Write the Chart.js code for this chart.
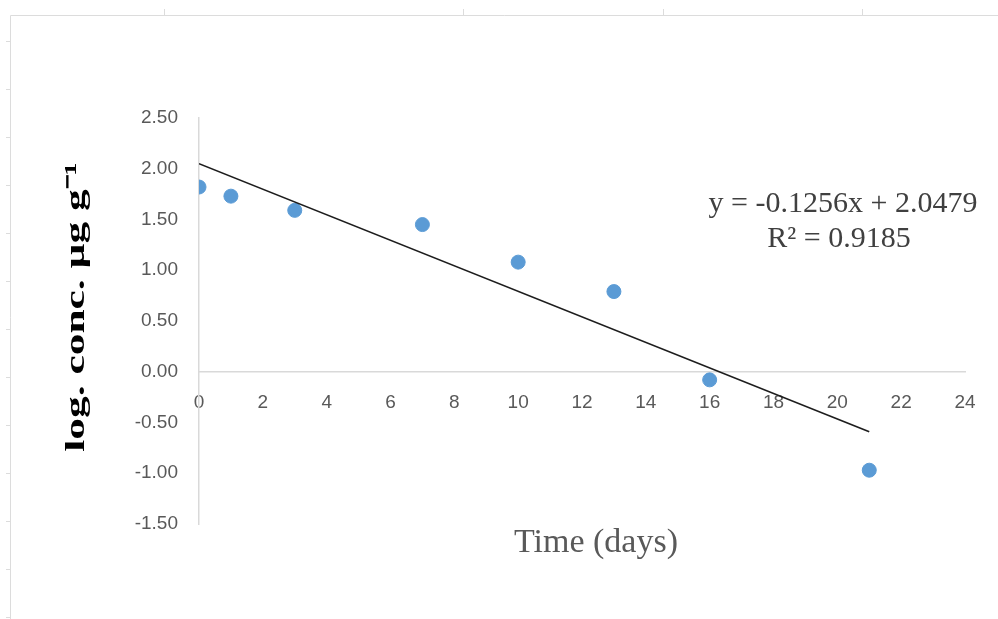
<!DOCTYPE html>
<html>
<head>
<meta charset="utf-8">
<script src="https://cdn.jsdelivr.net/npm/chart.js@4/dist/chart.umd.min.js"></script>
<style>
  html, body { margin: 0; padding: 0; background: #ffffff; }
  #wrap { width: 998px; height: 619px; position: relative; }
</style>
</head>
<body>
<div id="wrap"><canvas id="c" width="998" height="619"></canvas></div>
<script>
// ---- data ----
const days = [0, 1, 3, 7, 10, 13, 16, 21];
const logConc = [1.82, 1.73, 1.59, 1.45, 1.08, 0.79, -0.08, -0.97];
const trendDays = [0, 21];
const trendValues = [2.05, -0.59];
const equationLines = ['y = -0.1256x + 2.0479', 'R\u00B2 = 0.9185'];
const xTitle = 'Time (days)';
const yTitle = 'log. conc. \u00B5g g\u207B\u00B9';

const pts = days.map((d, i) => ({ x: d, y: logConc[i] }));
const trend = trendDays.map((d, i) => ({ x: d, y: trendValues[i] }));

const framePlugin = {
  id: 'frame',
  beforeDraw(chart) {
    const ctx = chart.ctx;
    ctx.save();
    ctx.strokeStyle = '#dcdcdc';
    ctx.lineWidth = 1;
    ctx.beginPath();
    ctx.moveTo(10.5, 619); ctx.lineTo(10.5, 15.5); ctx.lineTo(998, 15.5);
    [164, 463, 663, 862].forEach(x => { ctx.moveTo(x + 0.5, 9); ctx.lineTo(x + 0.5, 15); });
    for (let y = 41; y < 619; y += 48) { ctx.moveTo(6, y + 0.5); ctx.lineTo(10, y + 0.5); }
    ctx.stroke();
    ctx.restore();
  }
};

const equationPlugin = {
  id: 'equation',
  afterDatasetsDraw(chart) {
    const ctx = chart.ctx;
    ctx.save();
    ctx.font = '30px "Liberation Serif", "Times New Roman", serif';
    ctx.fillStyle = '#404040';
    ctx.textAlign = 'center';
    ctx.textBaseline = 'middle';
    ctx.fillText(equationLines[0], 843, 204);
    ctx.fillText(equationLines[1], 839, 239);
    ctx.restore();
  }
};

// small wrappers that place the axis titles like the reference
function wrapTitle(scale, fn) {
  if (scale._titleWrapped) return;
  scale._titleWrapped = true;
  const orig = scale.drawTitle;
  scale.drawTitle = function () {
    const ctx = this.ctx;
    ctx.save();
    fn(ctx, this);
    orig.call(this);
    ctx.restore();
  };
}

new Chart(document.getElementById('c'), {
  type: 'scatter',
  data: {
    datasets: [
      {
        label: 'log conc',
        data: pts,
        backgroundColor: '#5b9bd5',
        borderColor: '#5b9bd5',
        pointRadius: 7,
        pointHoverRadius: 7,
        order: 2
      },
      {
        type: 'line',
        label: 'Linear trend',
        data: trend,
        borderColor: '#1e1e1e',
        borderWidth: 1.6,
        pointRadius: 0,
        fill: false,
        order: 1
      }
    ]
  },
  options: {
    responsive: false,
    animation: false,
    devicePixelRatio: 1,
    layout: { padding: { top: 118, right: 33, bottom: 95, left: 0 } },
    plugins: { legend: { display: false }, tooltip: { enabled: false } },
    scales: {
      x: {
        type: 'linear',
        position: { y: 0 },
        min: 0, max: 24,
        grid: { display: false, drawTicks: false },
        border: { display: true, color: '#d9d9d9', width: 1.5 },
        ticks: {
          stepSize: 2,
          padding: 20,
          color: '#595959',
          font: { family: '"Liberation Sans", Arial, sans-serif', size: 19 }
        },
        title: {
          display: true,
          text: xTitle,
          color: '#595959',
          font: { family: '"Liberation Serif", "Times New Roman", serif', size: 34 },
          padding: { top: 0, bottom: -97 }
        },
        afterFit(scale) {
          scale.height = 95;
          wrapTitle(scale, (ctx) => ctx.translate(14, 0));
        }
      },
      y: {
        type: 'linear',
        position: 'left',
        min: -1.5, max: 2.5,
        grid: { display: false, drawTicks: false },
        border: { display: true, color: '#d9d9d9', width: 1.5 },
        ticks: {
          stepSize: 0.5,
          padding: 21,
          color: '#595959',
          font: { family: '"Liberation Sans", Arial, sans-serif', size: 19 },
          callback: v => Number(v).toFixed(2)
        },
        title: {
          display: true,
          text: yTitle,
          color: '#000000',
          font: { family: '"Liberation Serif", "Times New Roman", serif', size: 28, weight: 'bold' },
          padding: { top: 60, bottom: 0 }
        },
        afterFit(scale) {
          scale.width = 199;
          wrapTitle(scale, (ctx, s) => {
            const cx = 77;
            const cy = (s.top + s.bottom) / 2;
            ctx.translate(cx, 307);
            ctx.scale(1, 1.55);
            ctx.translate(-cx, -cy);
          });
        }
      }
    }
  },
  plugins: [framePlugin, equationPlugin]
});
</script>
</body>
</html>
